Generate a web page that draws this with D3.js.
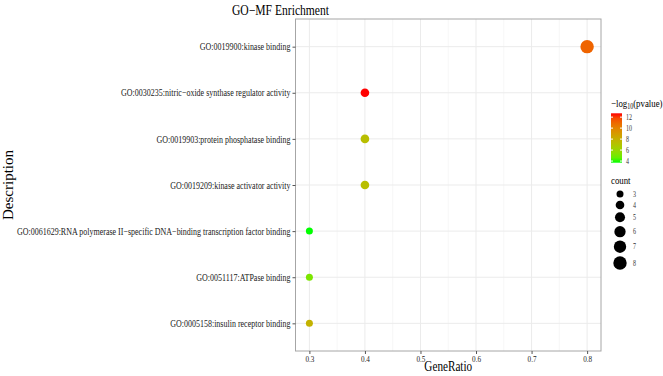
<html>
<script src="https://cdn.jsdelivr.net/npm/d3@7"></script>
<body style="margin:0;background:#fff">
<div id="vis"></div>
<script>
// GO-MF enrichment dot plot
const terms = [
  'GO:0019900:kinase binding',
  'GO:0030235:nitric\u2212oxide synthase regulator activity',
  'GO:0019903:protein phosphatase binding',
  'GO:0019209:kinase activator activity',
  'GO:0061629:RNA polymerase II\u2212specific DNA\u2212binding transcription factor binding',
  'GO:0051117:ATPase binding',
  'GO:0005158:insulin receptor binding'
];
const geneRatio = [0.8, 0.4, 0.4, 0.4, 0.3, 0.3, 0.3];
const counts = [8, 4, 4, 4, 3, 3, 3];
const logP = [11.1, 12.7, 7.3, 7.3, 3.7, 5.1, 7.9];
const xTicks = [0.3, 0.4, 0.5, 0.6, 0.7, 0.8];
const colorTicks = [4, 6, 8, 10, 12];
const countTicks = [3, 4, 5, 6, 7, 8];

const W = 663, H = 376;
const m = {left: 295.5, right: 601, top: 19, bottom: 351};
const font = "'Liberation Serif', 'Times New Roman', serif";
const sq = 0.8; // the reference text is squeezed horizontally

const svg = d3.select('#vis').append('svg').attr('width', W).attr('height', H)
  .style('font-family', font);

// text placed at (px,py), squeezed horizontally
function label(parent, px, py, txt, size, anchor) {
  return parent.append('g').attr('transform', `translate(${px},${py})`)
    .append('text').attr('transform', `scale(${sq},1)`)
    .attr('text-anchor', anchor || 'start')
    .style('font-family', font).style('font-size', size + 'px').text(txt);
}

const x = d3.scaleLinear().domain([0.275, 0.825]).range([m.left, m.right]);
const y = d3.scalePoint().domain(terms).range([m.top, m.bottom]).padding(0.6);
const pExt = [3.7, 12.7];
const color = d3.scaleLinear().domain(pExt).range(['#00FF00', '#FF0000']).interpolate(d3.interpolateLab);
const r = d3.scaleRadial().domain([3, 8]).range([3.5, 6.7]);

// grid
const g = svg.append('g');
const minor = d3.range(0.25, 0.86, 0.1).filter(v => v > 0.275 && v < 0.825);
g.selectAll('.minor').data(minor).enter().append('line')
  .attr('x1', d => x(d)).attr('x2', d => x(d)).attr('y1', m.top).attr('y2', m.bottom)
  .attr('stroke', '#F2F2F2').attr('stroke-width', 0.6);
g.selectAll('.vmaj').data(xTicks).enter().append('line')
  .attr('x1', d => x(d)).attr('x2', d => x(d)).attr('y1', m.top).attr('y2', m.bottom)
  .attr('stroke', '#EBEBEB').attr('stroke-width', 1);
g.selectAll('.hmaj').data(terms).enter().append('line')
  .attr('x1', m.left).attr('x2', m.right).attr('y1', d => y(d)).attr('y2', d => y(d))
  .attr('stroke', '#EBEBEB').attr('stroke-width', 1);

// points
svg.selectAll('.pt').data(terms).enter().append('circle')
  .attr('cx', (d, i) => x(geneRatio[i]))
  .attr('cy', d => y(d))
  .attr('r', (d, i) => r(counts[i]))
  .attr('fill', (d, i) => color(logP[i]));

// panel border
svg.append('rect').attr('x', m.left).attr('y', m.top)
  .attr('width', m.right - m.left).attr('height', m.bottom - m.top)
  .attr('fill', 'none').attr('stroke', '#A6A6A6').attr('stroke-width', 1);

// axes
const xa = svg.append('g').attr('transform', `translate(0,${m.bottom})`)
  .call(d3.axisBottom(x).tickValues(xTicks).tickSize(3).tickPadding(2).tickFormat(d3.format('.1f')));
const ya = svg.append('g').attr('transform', `translate(${m.left},0)`)
  .call(d3.axisLeft(y).tickSize(3).tickPadding(2));
[xa, ya].forEach(a => {
  a.select('.domain').remove();
  a.selectAll('line').attr('stroke', '#555');
  a.selectAll('text').attr('fill', '#1a1a1a').style('font-family', font)
    .attr('transform', `scale(${sq},1)`);
});
xa.selectAll('text').style('font-size', '9px');
ya.selectAll('text').style('font-size', '10px').attr('x', -5 / sq);

// titles
label(svg, 232, 15, 'GO\u2212MF Enrichment', 14.5);
label(svg, (m.left + m.right) / 2, 371, 'GeneRatio', 14, 'middle');
svg.append('text').attr('transform', `translate(13,${(m.top + m.bottom) / 2}) rotate(-90)`)
  .attr('text-anchor', 'middle').text('Description').style('font-size', '15px');

// colour legend
const lg = svg.append('g');
const lt = label(lg, 611, 107, '', 11);
lt.append('tspan').text('\u2212log');
lt.append('tspan').text('10').style('font-size', '7.5px').attr('dy', 2);
lt.append('tspan').text('(pvalue)').attr('dy', -2);
const barTop = 113.3, barBot = 162.7;
const cy = d3.scaleLinear().domain(pExt).range([barBot, barTop]);
const grad = svg.append('defs').append('linearGradient').attr('id', 'cg')
  .attr('x1', 0).attr('y1', 1).attr('x2', 0).attr('y2', 0);
d3.range(0, 1.01, 0.1).forEach(t => {
  grad.append('stop').attr('offset', t).attr('stop-color', color(pExt[0] + t * (pExt[1] - pExt[0])));
});
lg.append('rect').attr('x', 611).attr('y', barTop).attr('width', 11).attr('height', barBot - barTop)
  .attr('fill', 'url(#cg)');
lg.selectAll('.ct').data(colorTicks).enter().append('line')
  .attr('x1', 611).attr('x2', 613).attr('y1', d => cy(d)).attr('y2', d => cy(d)).attr('stroke', '#fff');
lg.selectAll('.ct2').data(colorTicks).enter().append('line')
  .attr('x1', 620).attr('x2', 622).attr('y1', d => cy(d)).attr('y2', d => cy(d)).attr('stroke', '#fff');
colorTicks.forEach(d => label(lg, 626, cy(d) + 2.5, d, 7.5).attr('fill', '#333'));

// size legend
const sl = svg.append('g');
label(sl, 611, 184, 'count', 11);
const keyY = [194, 205, 217.3, 231.7, 246.7, 263];
sl.selectAll('.sc').data(countTicks).enter().append('circle')
  .attr('cx', 620).attr('cy', (d, i) => keyY[i]).attr('r', d => r(d)).attr('fill', '#000');
countTicks.forEach((d, i) => label(sl, 633, keyY[i] + 2.5, d, 7.5).attr('fill', '#333'));
</script>
</body>
</html>
